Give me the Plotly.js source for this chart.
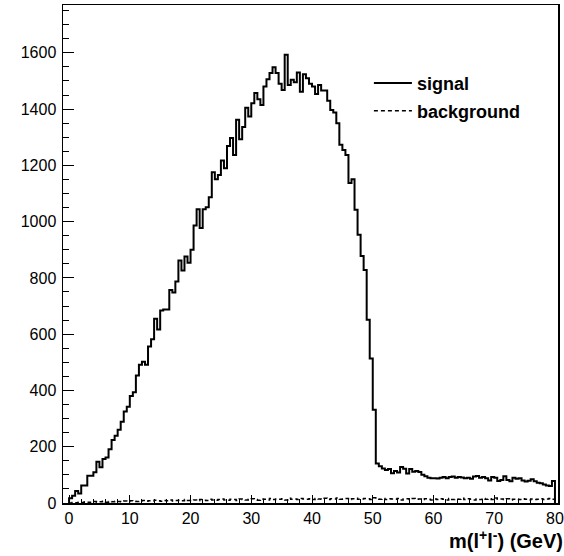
<!DOCTYPE html>
<html>
<head>
<meta charset="utf-8">
<script src="https://cdn.plot.ly/plotly-3.0.1.min.js"></script>
<style>html,body{margin:0;padding:0;background:#fff;}#chart{width:564px;height:556px;}</style>
</head>
<body>
<div id="chart"></div>
<script>
// Histogram: 160 bins of width 0.5 GeV from 0 to 80
const xMin = 0;
const binWidth = 0.5;
const seriesNames = ["signal", "background"];
const signal = [
  17, 26, 43, 34, 62, 62, 97, 97, 109, 147,
  127, 156, 162, 191, 224, 239, 260, 289, 325, 342,
  380, 394, 453, 491, 502, 491, 556, 582, 655, 617,
  684, 688, 688, 757, 748, 787, 862, 826, 876, 854,
  900, 986, 1044, 977, 1044, 1051, 1087, 1176, 1151, 1166,
  1217, 1190, 1269, 1297, 1237, 1362, 1293, 1336, 1405, 1374,
  1421, 1457, 1435, 1415, 1480, 1506, 1528, 1549, 1528, 1490,
  1468, 1593, 1486, 1504, 1495, 1530, 1462, 1524, 1510, 1490,
  1480, 1454, 1486, 1466, 1466, 1430, 1397, 1388, 1350, 1273,
  1255, 1237, 1137, 1151, 1042, 953, 878, 828, 651, 514,
  331, 140, 131, 123, 117, 121, 106, 114, 108, 128,
  122, 105, 121, 111, 114, 110, 100, 95, 90, 88,
  88, 87, 90, 92, 88, 92, 94, 90, 92, 91,
  88, 90, 86, 94, 96, 90, 92, 88, 80, 92,
  90, 78, 82, 95, 82, 77, 90, 86, 88, 80,
  76, 79, 84, 77, 72, 70, 66, 62, 60, 78
];
const background = [
  0, 2, 1, 3, 2, 4, 3, 2, 5, 3, 4, 6, 3, 5, 4, 6, 5, 4, 7, 5,
  8, 6, 5, 7, 9, 6, 8, 7, 10, 8, 6, 9, 8, 11, 7, 9, 10, 8, 12, 9,
  10, 11, 8, 12, 10, 9, 13, 11, 10, 12, 14, 11, 10, 13, 12, 9, 14, 12, 11, 13,
  15, 12, 10, 14, 13, 11, 16, 12, 14, 13, 15, 11, 17, 13, 14, 12, 16, 14, 13, 15,
  12, 16, 14, 13, 17, 12, 15, 14, 18, 13, 14, 16, 12, 15, 17, 13, 14, 16, 15, 12,
  19, 14, 13, 16, 12, 15, 14, 13, 16, 11, 14, 15, 12, 16, 13, 14, 12, 15, 13, 11,
  14, 12, 15, 13, 11, 16, 12, 14, 13, 17, 12, 15, 13, 11, 14, 12, 16, 13, 15, 12,
  18, 13, 14, 12, 15, 11, 13, 14, 12, 15, 13, 11, 14, 12, 13, 15, 12, 14, 16, 13
];
const xTickVals = [0, 10, 20, 30, 40, 50, 60, 70, 80];
const yTickVals = [0, 200, 400, 600, 800, 1000, 1200, 1400, 1600];
const xTitle = "m(l<sup>+</sup>l<sup>-</sup>) (GeV)";

function stepPath(vals) {
  const xs = [xMin], ys = [0];
  vals.forEach((v, i) => { xs.push(xMin + i * binWidth); ys.push(v); });
  const xEnd = xMin + vals.length * binWidth;
  xs.push(xEnd); ys.push(vals[vals.length - 1]);
  xs.push(xEnd); ys.push(0);
  return {xs, ys};
}

const s = stepPath(signal);
const b = stepPath(background);
const FONT = "Liberation Sans, Arial, Helvetica, sans-serif";

const traces = [
  {x: s.xs, y: s.ys, type: "scatter", mode: "lines", name: seriesNames[0],
   line: {shape: "hv", color: "#000", width: 2}, legend: "legend"},
  {x: b.xs, y: b.ys, type: "scatter", mode: "lines", name: seriesNames[1],
   line: {shape: "hv", color: "#000", width: 1.5, dash: "4px,3px"}, legend: "legend2"}
];

const axisCommon = {
  showline: true, linecolor: "#000", linewidth: 1.5, mirror: true,
  showgrid: false, zeroline: false, ticks: "inside", tickcolor: "#000", tickwidth: 1,
  tickfont: {family: FONT, size: 16, color: "#000"}
};

const legendFont = {family: FONT, size: 18, color: "#000", weight: "bold"};

const layout = {
  width: 564, height: 556,
  margin: {l: 63, r: 6, t: 5, b: 53},
  paper_bgcolor: "#fff", plot_bgcolor: "#fff",
  showlegend: true,
  xaxis: Object.assign({}, axisCommon, {
    range: [-1, 80.5], tickvals: xTickVals, ticklen: 8,
    minor: {dtick: 2, tick0: 0, ticklen: 4, ticks: "inside", tickcolor: "#000", showgrid: false}
  }),
  yaxis: Object.assign({}, axisCommon, {
    range: [0, 1770], tickvals: yTickVals, ticklen: 11, ticklabelstandoff: 2,
    minor: {dtick: 50, tick0: 0, ticklen: 6, ticks: "inside", tickcolor: "#000", showgrid: false}
  }),
  legend: {x: 0.618, y: 0.843, xanchor: "left", yanchor: "middle", bgcolor: "rgba(0,0,0,0)",
    borderwidth: 0, font: legendFont, itemwidth: 38},
  legend2: {x: 0.618, y: 0.787, xanchor: "left", yanchor: "middle", bgcolor: "rgba(0,0,0,0)",
    borderwidth: 0, font: legendFont, itemwidth: 38},
  annotations: [{
    text: "<b>" + xTitle + "</b>", xref: "paper", yref: "paper", x: 1.014, y: -0.073,
    xanchor: "right", yanchor: "middle", showarrow: false,
    font: {family: FONT, size: 20, color: "#000"}
  }]
};

Plotly.newPlot("chart", traces, layout, {displayModeBar: false, staticPlot: true});
</script>
</body>
</html>
